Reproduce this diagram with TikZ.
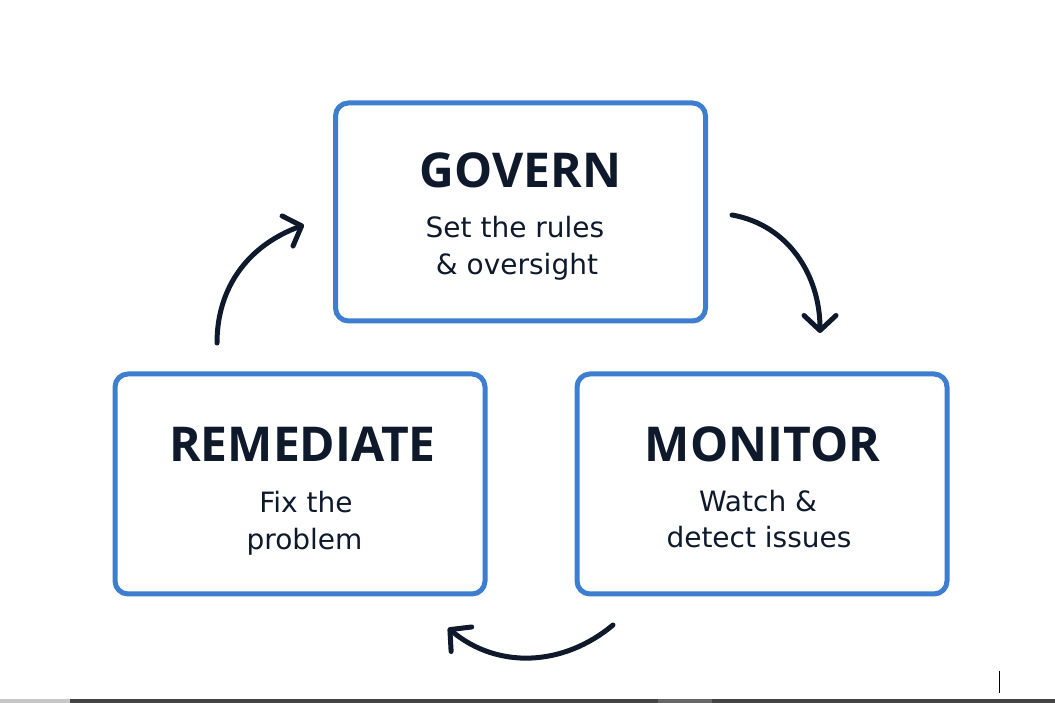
\documentclass[tikz,border=0pt]{standalone}
\usepackage{fontspec}
\setmainfont{Open Sans}
\newfontfamily\notefont{DejaVu Sans}
\usetikzlibrary{arrows.meta}

\definecolor{frameblue}{HTML}{3E7ED0}
\definecolor{ink}{HTML}{0E1A2C}

\begin{document}
\begin{tikzpicture}[x=1pt, y=1pt, >={Straight Barb[length=15pt,width=32pt,line cap=round,line join=round]}]
  \tikzset{
    stage/.style={draw=frameblue,line width=5pt,rounded corners=13pt,fill=white,
                  minimum width=370pt,minimum height=218pt,inner sep=0pt},
    head/.style={text=ink,anchor=base,inner sep=0pt,
                 font=\fontsize{48}{48}\selectfont\bfseries},
    note/.style={text=ink,anchor=base,inner sep=0pt,
                 font=\notefont\fontsize{28}{28}\selectfont},
    cycle/.style={draw=ink,line width=5pt,line cap=round,->}
  }
  \useasboundingbox[fill=white] (0,0) rectangle (1055,703);
  % Stages
  \node[stage] (govern) at (520.5,491) {};
  \node[stage,minimum height=220pt] (remediate) at (300,219) {};
  \node[stage,minimum height=220pt] (monitor) at (762,219) {};
  % Texts
  \node[head] (governT) at (520.5,515) {GOVERN};
  \node[note] (governA) at (515,465) {Set the rules};
  \node[note] (governB) at (517,428) {\& oversight};
  \node[head] (remediateT) at (302.5,241) {REMEDIATE};
  \node[note] (remediateA) at (306,190) {Fix the};
  \node[note] (remediateB) at (304.5,153) {problem};
  \node[head] (monitorT) at (762.5,241) {MONITOR};
  \node[note] (monitorA) at (758,191) {Watch \&};
  \node[note] (monitorB) at (759,155) {detect issues};
  % Cycle arrows
  \coordinate (upA) at (217,360);  \coordinate (upB) at (304,478);
  \coordinate (downA) at (732,488); \coordinate (downB) at (820,370);
  \coordinate (backA) at (613,78);  \coordinate (backB) at (448,75);
  \draw[cycle] (upA) to[out=90,in=200] (upB);
  \draw[cycle] (downA) to[out=-10,in=90] (downB);
  \draw[cycle] (backA) to[out=-140,in=-40] (backB);
  % Screen edge
  \fill[black!22] (0,0) rectangle (70,4);
  \fill[black!73] (70,0) rectangle (1055,4);
  \fill[black!60] (658,0) rectangle (712,4);
  \draw[black,line width=1pt] (999,10) -- (999,32);
\end{tikzpicture}
\end{document}
